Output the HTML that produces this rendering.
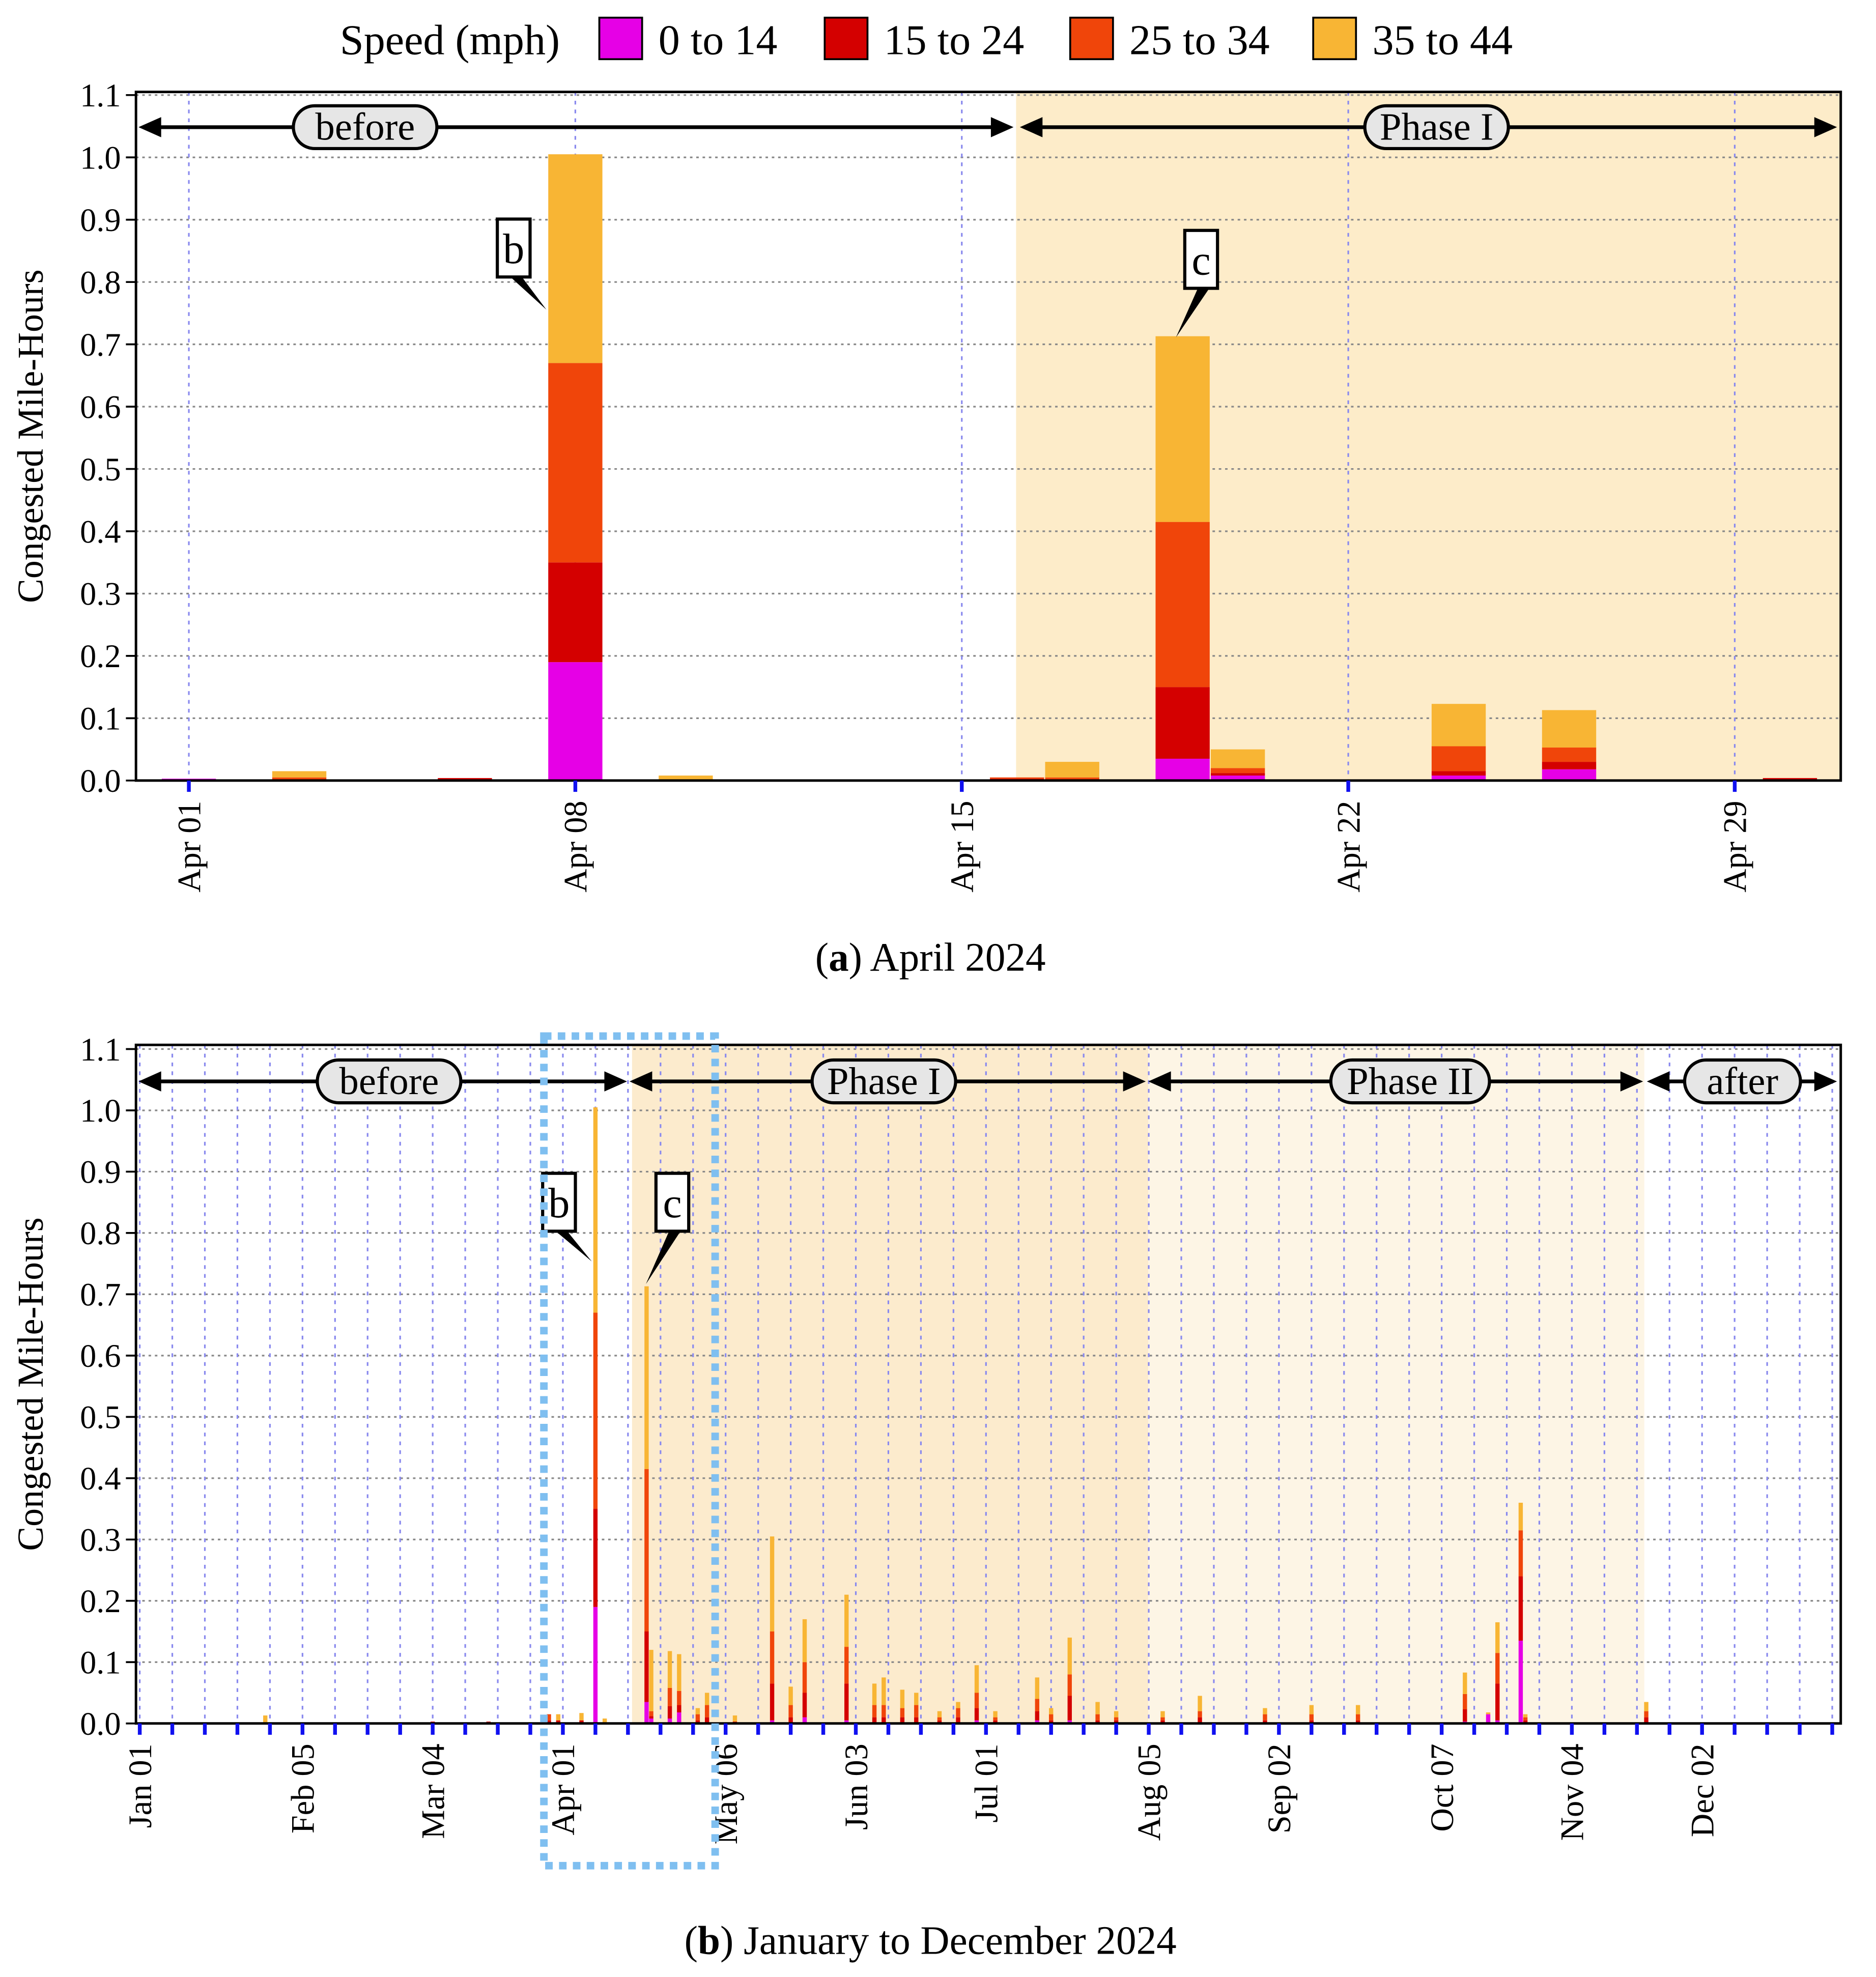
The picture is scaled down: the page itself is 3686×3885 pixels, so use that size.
<!DOCTYPE html>
<html><head><meta charset="utf-8"><style>
html,body{margin:0;padding:0;background:#fff}
svg{display:block}
svg text{font-family:"Liberation Serif","DejaVu Serif",serif}
</style></head><body>
<svg id="fig" width="3686" height="3885" viewBox="0 0 1490 1570.4" xmlns="http://www.w3.org/2000/svg" font-family="Liberation Serif, serif">
<g font-size="34">
<text x="270" y="43">Speed (mph)</text>
<rect x="476" y="14" width="34" height="33" fill="#e600e6" stroke="#000" stroke-width="1.5"/>
<text x="523" y="43">0 to 14</text>
<rect x="655" y="14" width="34" height="33" fill="#d40000" stroke="#000" stroke-width="1.5"/>
<text x="702" y="43">15 to 24</text>
<rect x="850" y="14" width="34" height="33" fill="#f0450a" stroke="#000" stroke-width="1.5"/>
<text x="897" y="43">25 to 34</text>
<rect x="1043" y="14" width="34" height="33" fill="#f8b534" stroke="#000" stroke-width="1.5"/>
<text x="1090" y="43">35 to 44</text>
</g>
<g id="chartA"></g>
<g id="chartB"></g>
<text x="739" y="771" font-size="32" text-anchor="middle">(<tspan font-weight="bold">a</tspan>) April 2024</text>
<text x="739" y="1552" font-size="32" text-anchor="middle">(<tspan font-weight="bold">b</tspan>) January to December 2024</text>
</svg>
<script>
// ---- Chart A data (April 2024, day of month) ----
const aDays = [1, 3, 6, 8, 10, 16, 17, 19, 20, 24, 26, 30];
const aSlow = [0.003, 0, 0, 0.19, 0, 0, 0, 0.035, 0.008, 0.008, 0.018, 0];
const aMid = [0, 0, 0.004, 0.16, 0, 0.003, 0, 0.115, 0.004, 0.007, 0.012, 0.004];
const aFast = [0, 0.005, 0, 0.32, 0, 0.002, 0.005, 0.265, 0.008, 0.04, 0.023, 0];
const aTop = [0, 0.01, 0, 0.335, 0.008, 0, 0.025, 0.298, 0.03, 0.068, 0.06, 0];
const aTickDays = [1, 8, 15, 22, 29];
const aTickLabels = ["Apr 01", "Apr 08", "Apr 15", "Apr 22", "Apr 29"];
const yTicks = [0, 0.1, 0.2, 0.3, 0.4, 0.5, 0.6, 0.7, 0.8, 0.9, 1.0, 1.1];
// ---- Chart B data (day of year, 0 = Jan 01) ----
const bDays = [27, 63, 75, 88, 90, 95, 98, 100, 109, 110, 114, 116, 120, 122, 128, 136, 140, 143, 152, 158, 160, 164, 167, 172, 176, 180, 184, 193, 196, 200, 206, 210, 220, 228, 242, 252, 262, 285, 290, 292, 297, 298, 324];
const bSlow = [0, 0, 0, 0, 0, 0, 0.19, 0, 0.035, 0.008, 0.008, 0.018, 0, 0, 0, 0.005, 0, 0.01, 0.005, 0, 0, 0, 0, 0, 0, 0.005, 0, 0.005, 0, 0.005, 0, 0, 0, 0, 0, 0, 0, 0.003, 0.015, 0.005, 0.135, 0, 0];
const bMid = [0, 0.003, 0.003, 0.005, 0.005, 0.005, 0.16, 0, 0.115, 0.004, 0.02, 0.012, 0.005, 0.01, 0.003, 0.06, 0.01, 0.04, 0.06, 0.01, 0.01, 0.01, 0.01, 0.005, 0.01, 0.02, 0.005, 0.015, 0.005, 0.04, 0.005, 0.005, 0.005, 0.01, 0.005, 0.005, 0.005, 0.02, 0, 0.06, 0.105, 0.005, 0.01];
const bFast = [0, 0, 0, 0.01, 0, 0, 0.32, 0, 0.265, 0.008, 0.03, 0.023, 0.01, 0.02, 0, 0.085, 0.02, 0.05, 0.06, 0.02, 0.02, 0.015, 0.02, 0.005, 0.015, 0.025, 0.005, 0.02, 0.01, 0.035, 0.01, 0.005, 0.005, 0.01, 0.01, 0.01, 0.01, 0.025, 0, 0.05, 0.075, 0.005, 0.01];
const bTop = [0.013, 0, 0, 0, 0.01, 0.012, 0.335, 0.008, 0.298, 0.1, 0.06, 0.06, 0.01, 0.02, 0.01, 0.155, 0.03, 0.07, 0.085, 0.035, 0.045, 0.03, 0.02, 0.01, 0.01, 0.045, 0.01, 0.035, 0.01, 0.06, 0.02, 0.01, 0.01, 0.025, 0.01, 0.015, 0.015, 0.035, 0.003, 0.05, 0.045, 0.005, 0.015];
const bTickDays = [0, 35, 63, 91, 126, 154, 182, 217, 245, 280, 308, 336];
const bTickLabels = ["Jan 01", "Feb 05", "Mar 04", "Apr 01", "May 06", "Jun 03", "Jul 01", "Aug 05", "Sep 02", "Oct 07", "Nov 04", "Dec 02"];

const NS = "http://www.w3.org/2000/svg";
const colors = ["#e600e6", "#d40000", "#f0450a", "#f8b534"];
const segNames = ["0-14", "15-24", "25-34", "35-44"];
function mk(parent, tag, attrs) {
  const e = document.createElementNS(NS, tag);
  for (const k in attrs) e.setAttribute(k, attrs[k]);
  parent.appendChild(e);
  return e;
}
function arrowLine(g, x1, x2, y) {
  mk(g, "line", {x1: x1 + 14, x2: x2 - 14, y1: y, y2: y, stroke: "#000", "stroke-width": 3});
  mk(g, "polygon", {points: `${x1},${y} ${x1 + 18},${y - 8} ${x1 + 18},${y + 8}`, fill: "#000"});
  mk(g, "polygon", {points: `${x2},${y} ${x2 - 18},${y - 8} ${x2 - 18},${y + 8}`, fill: "#000"});
}
function pill(g, cx, y, w, label, name) {
  const r = mk(g, "rect", {x: cx - w / 2, y: y - 17, width: w, height: 34, rx: 17, fill: "#e6e6e6", stroke: "#000", "stroke-width": 2.5});
  
  
  const t = mk(g, "text", {x: cx, y: y + 10, "text-anchor": "middle", "font-size": 31});
  t.textContent = label;
  
  
}
function callout(g, x, y, w, h, label, tx, ty, name) {
  mk(g, "polygon", {points: `${x + w * 0.4},${y + h} ${tx},${ty} ${x + w * 0.75},${y + h}`, fill: "#000"});
  const r = mk(g, "rect", {x, y, width: w, height: h, fill: "#fff", stroke: "#000", "stroke-width": 2.5});
  
  
  const t = mk(g, "text", {x: x + w / 2, y: y + h - 11, "text-anchor": "middle", "font-size": 34});
  t.textContent = label;
}

function drawChart(cfg) {
  const g = document.getElementById(cfg.id);
  const {L, R, T, B, y0, yPer1, xs, barW} = cfg;
  const ys = v => y0 - v * yPer1;
  mk(g, "rect", {x: L, y: T, width: R - L, height: B - T, fill: "#fff"});
  cfg.shades.forEach(s => {
    const r = mk(g, "rect", {x: s[0], y: T, width: s[1] - s[0], height: B - T, fill: s[2]});
    
    
  });
  yTicks.forEach(v => {
    mk(g, "line", {x1: L, x2: R, y1: ys(v), y2: ys(v), stroke: "#888", "stroke-width": 1.3, "stroke-dasharray": "2,3"});
    mk(g, "line", {x1: L - 8, x2: L, y1: ys(v), y2: ys(v), stroke: "#000", "stroke-width": 1.5});
    const t = mk(g, "text", {x: L - 12, y: ys(v) + 9, "text-anchor": "end", "font-size": 26});
    t.textContent = v.toFixed(1);
    
    
  });
  cfg.vgrid.forEach(d => mk(g, "line", {x1: xs(d), x2: xs(d), y1: T, y2: B, stroke: "#8a8aee", "stroke-width": 1.3, "stroke-dasharray": "3,4"}));
  cfg.days.forEach((d, i) => {
    let base = 0;
    cfg.series.forEach((s, k) => {
      const v = s[i];
      if (v > 0) {
        const r = mk(g, "rect", {x: xs(d) - barW / 2, y: ys(base + v), width: barW, height: ys(base) - ys(base + v), fill: colors[k]});
        
        
      }
      base += v;
    });
  });
  mk(g, "rect", {x: L, y: T, width: R - L, height: B - T, fill: "none", stroke: "#000", "stroke-width": 2});
  cfg.minorTicks.forEach(d => mk(g, "line", {x1: xs(d), x2: xs(d), y1: B, y2: B + 9, stroke: "#1010f0", "stroke-width": 3}));
  cfg.tickDays.forEach((d, i) => {
    const t = mk(g, "text", {transform: `translate(${xs(d) + 9},${B + 16}) rotate(-90)`, "text-anchor": "end", "font-size": 26});
    t.textContent = cfg.tickLabels[i];
    
    
  });
  const yl = mk(g, "text", {transform: `translate(34,${(T + B) / 2}) rotate(-90)`, "text-anchor": "middle", "font-size": 29});
  yl.textContent = "Congested Mile-Hours";
  
  
  return g;
}

const xa = d => 150 + (d - 1) * 43.85;
const gA = drawChart({id: "chartA", L: 108, R: 1462, T: 73, B: 620, y0: 620, yPer1: 495, xs: xa, barW: 43,
  shades: [[807, 1462, "#fdecc9", "phase1-region"]],
  vgrid: aTickDays, minorTicks: aTickDays, tickDays: aTickDays, tickLabels: aTickLabels,
  days: aDays, series: [aSlow, aMid, aFast, aTop]});
arrowLine(gA, 110, 805, 101); arrowLine(gA, 810, 1459, 101);
pill(gA, 290, 101, 114, "before", "before-a");
pill(gA, 1141, 101, 114, "Phase I", "phase1-a");
callout(gA, 395, 174, 26, 46, "b", 434, 246, "callout-b-a");
callout(gA, 941, 183, 26, 46, "c", 934, 268, "callout-c-a");

const xb = d => 111 + d * 3.693;
const weeks = []; for (let w = 0; w <= 52; w++) weeks.push(w * 7);
const gB = drawChart({id: "chartB", L: 108, R: 1462, T: 830, B: 1369, y0: 1369, yPer1: 487, xs: xb, barW: 3.4,
  shades: [[502, 912, "#fcebcd", "phase1-region"], [912, 1306, "#fdf5e5", "phase2-region"]],
  vgrid: weeks, minorTicks: weeks, tickDays: bTickDays, tickLabels: bTickLabels,
  days: bDays, series: [bSlow, bMid, bFast, bTop]});
arrowLine(gB, 110, 498, 859); arrowLine(gB, 500, 910, 859); arrowLine(gB, 912, 1305, 859); arrowLine(gB, 1308, 1459, 859);
pill(gB, 309, 859, 114, "before", "before-b");
pill(gB, 702, 859, 114, "Phase I", "phase1-b");
pill(gB, 1120, 859, 126, "Phase II", "phase2-b");
pill(gB, 1384, 859, 92, "after", "after-b");
callout(gB, 431, 932, 26, 46, "b", 470, 1002, "callout-b-b");
callout(gB, 521, 932, 26, 46, "c", 513, 1020, "callout-c-b");
const zr = mk(gB, "rect", {x: 432, y: 823, width: 136, height: 659, fill: "none", stroke: "#7fbff0", "stroke-width": 6, "stroke-dasharray": "6,5"});


</script>
</body></html>
